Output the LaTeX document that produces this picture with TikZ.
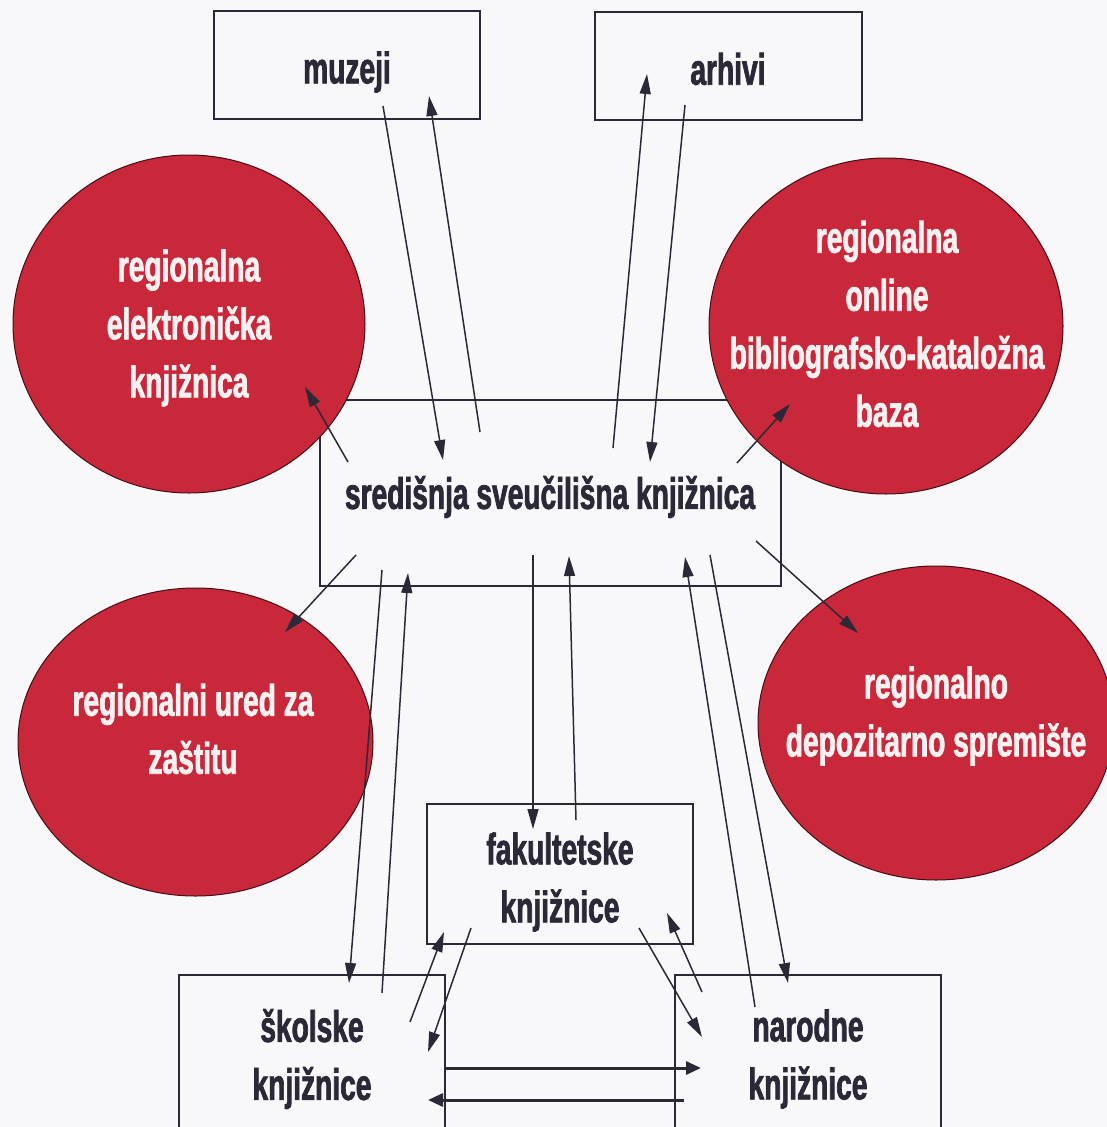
\documentclass[tikz,border=0pt]{standalone}
\usepackage{fontspec}
\newfontfamily\nf[FakeStretch=0.64,FakeBold=1.6]{Liberation Sans}
\usetikzlibrary{arrows.meta,shapes.geometric}
\definecolor{ink}{HTML}{2B2838}
\definecolor{discred}{HTML}{C8283A}
\definecolor{paper}{HTML}{F8F8FA}
\definecolor{wtext}{HTML}{F7F1F1}
\begin{document}
\begin{tikzpicture}[x=1pt,y=-1pt,
  box/.style={draw=ink,line width=1.4pt,rectangle,inner sep=0pt},
  disc/.style={ellipse,fill=discred,draw=black!65!discred,line width=1pt,inner sep=0pt},
  btxt/.style={font=\nf\bfseries\fontsize{44}{58}\selectfont,text=ink,align=center,inner sep=0pt},
  wtxt/.style={btxt,text=wtext},
  arr/.style={draw=ink,line width=1.5pt,-{Triangle[length=20pt,width=11pt]}},
  harr/.style={draw=ink,line width=3pt,-{Triangle[length=15pt,width=13pt]}}]
\useasboundingbox (0,0) rectangle (1107,1127);
\fill[paper] (0,0) rectangle (1107,1127);
\begin{scope}
\clip (0,0) rectangle (1107,1127);
% boxes
\node[box,minimum width=266pt,minimum height=108pt] (muz) at (347,65) {};
\node[box,minimum width=267pt,minimum height=108pt] (arh) at (728.5,66) {};
\node[box,minimum width=461pt,minimum height=186pt] (ssk) at (550.5,493) {};
\node[box,minimum width=266pt,minimum height=140pt] (fak) at (560,874) {};
\node[box,minimum width=266pt,minimum height=185pt] (sko) at (312,1067.5) {};
\node[box,minimum width=266pt,minimum height=185pt] (nar) at (808,1067.5) {};
% discs
\node[disc,minimum width=352pt,minimum height=338pt] (elek) at (189,324) {};
\node[disc,minimum width=354pt,minimum height=336pt] (bibl) at (886,326) {};
\node[disc,minimum width=355pt,minimum height=308pt] (ured) at (195.5,742) {};
\node[disc,minimum width=356pt,minimum height=314pt] (depo) at (936,723) {};
% arrow end points
\coordinate (a1s) at (383,106);  \coordinate (a1e) at (443,460);
\coordinate (a2s) at (480,432);  \coordinate (a2e) at (429,96);
\coordinate (a3s) at (613,448);  \coordinate (a3e) at (647,74);
\coordinate (a4s) at (685,105);  \coordinate (a4e) at (650,462);
\coordinate (a5s) at (348,462);  \coordinate (a5e) at (305,387);
\coordinate (a6s) at (737,463);  \coordinate (a6e) at (790,404);
\coordinate (a7s) at (756,541);  \coordinate (a7e) at (858,633);
\coordinate (a8s) at (356,555);  \coordinate (a8e) at (285,632);
\coordinate (a9s) at (382,570);  \coordinate (a9e) at (349,983);
\coordinate (a10s) at (382,993); \coordinate (a10e) at (408,573);
\coordinate (a11s) at (533,555); \coordinate (a11e) at (533,829);
\coordinate (a12s) at (576,820); \coordinate (a12e) at (569,556);
\coordinate (a13s) at (755,1007);\coordinate (a13e) at (685,557);
\coordinate (a14s) at (710,555); \coordinate (a14e) at (788,983);
\coordinate (a15s) at (410,1022);\coordinate (a15e) at (444,932);
\coordinate (a16s) at (471,928); \coordinate (a16e) at (428,1052);
\coordinate (a17s) at (639,928); \coordinate (a17e) at (702,1037);
\coordinate (a18s) at (702,992); \coordinate (a18e) at (667,913);
\coordinate (a19s) at (445,1068);\coordinate (a19e) at (701,1068);
\coordinate (a20s) at (684,1100);\coordinate (a20e) at (428,1100);
% connectors
\foreach \i in {1,...,18} {\draw[arr] (a\i s) -- (a\i e);}
\draw[harr] (a19s) -- (a19e);
\draw[harr] (a20s) -- (a20e);
% texts
\node[btxt] (muz-t) at (347,72) {muzeji};
\node[btxt] (arh-t) at (728,69) {arhivi};
\node[btxt] (ssk-t) at (550,497) {središnja sveučilišna knjižnica};
\node[btxt] (fak-t) at (560,882) {fakultetske\\knjižnice};
\node[btxt] (sko-t) at (312,1059) {školske\\knjižnice};
\node[btxt] (nar-t) at (808,1059) {narodne\\knjižnice};
\node[wtxt] (elek-t) at (189,328) {regionalna\\elektronička\\knjižnica};
\node[wtxt] (bibl-t) at (887,324) {regionalna\\online\\bibliografsko-kataložna\\baza};
\node[wtxt] (ured-t) at (193,729) {regionalni ured za\\zaštitu};
\node[wtxt] (depo-t) at (936,716) {regionalno\\depozitarno spremište};
\end{scope}
\end{tikzpicture}
\end{document}
